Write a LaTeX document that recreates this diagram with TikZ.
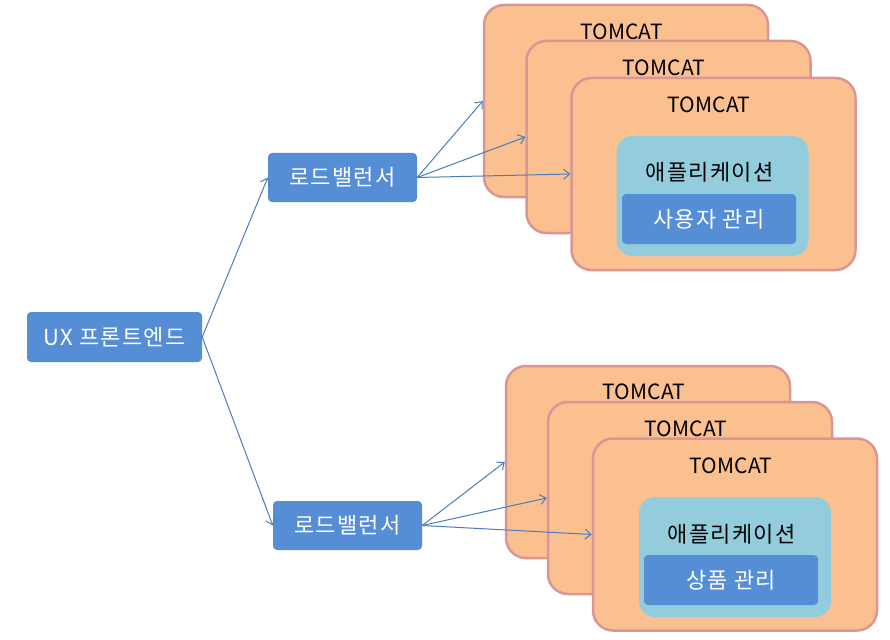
\documentclass[tikz,border=0pt]{standalone}
\usepackage{fontspec}
\setmainfont{Noto Sans CJK KR}
\newfontfamily\krfont[LetterSpace=6]{Noto Sans CJK KR}
\usetikzlibrary{arrows.meta}
\definecolor{tcfill}{HTML}{FAC090}
\definecolor{tcline}{HTML}{D99694}
\definecolor{appfill}{HTML}{93CDDD}
\definecolor{bluebox}{HTML}{558ED5}
\definecolor{arrowc}{HTML}{4A7EBB}
\tikzset{
  tomcat/.style={draw=tcline, line width=2.5pt, fill=tcfill, rounded corners=20pt, minimum width=284pt, minimum height=192pt, inner sep=0pt},
  appbox/.style={fill=appfill, rounded corners=16pt, minimum width=192pt, minimum height=120pt, inner sep=0pt},
  bluenode/.style={fill=bluebox, rounded corners=4pt, text=white, inner sep=0pt, font=\krfont\fontsize{22}{26}\selectfont},
  tclabel/.style={text=black, inner sep=0pt, font=\fontsize{21}{24}\selectfont},
  applabel/.style={text=black, inner sep=0pt, font=\krfont\fontsize{22}{26}\selectfont},
  conn/.style={draw=arrowc, line width=1pt, -{Straight Barb[length=6pt,width=10pt,line width=1pt]}}
}
\begin{document}
\begin{tikzpicture}[x=1pt,y=-1pt]
\useasboundingbox (0,0) rectangle (890,639);
\fill[white] (0,0) rectangle (890,639);
% top group
\node[tomcat] (ta) at (626,101) {};
\node[tclabel] (tal) at (622,32) {TOMCAT};
\node[tomcat] (tb) at (668.5,137) {};
\node[tclabel] (tbl) at (664,68) {TOMCAT};
\node[tomcat] (tc) at (713.5,174) {};
\node[tclabel] (tcl) at (709,105) {TOMCAT};
\node[appbox] (app1) at (712.5,196) {};
\node[applabel] (app1l) at (709.5,172) {애플리케이션};
\node[bluenode, minimum width=174pt, minimum height=50pt] (user) at (709,219) {사용자 관리};
% bottom group
\node[tomcat] (tba) at (648,462) {};
\node[tclabel] (tbal) at (644,392) {TOMCAT};
\node[tomcat] (tbb) at (690,498) {};
\node[tclabel] (tbbl) at (686,429) {TOMCAT};
\node[tomcat] (tbc) at (735,534.5) {};
\node[tclabel] (tbcl) at (731,466) {TOMCAT};
\node[appbox] (app2) at (735,557) {};
\node[applabel] (app2l) at (731.5,534) {애플리케이션};
\node[bluenode, minimum width=174pt, minimum height=50pt] (prod) at (731,580) {상품 관리};
% left nodes
\node[bluenode, minimum width=175pt, minimum height=50pt] (ux) at (114.5,337) {UX 프론트엔드};
\node[bluenode, minimum width=149pt, minimum height=49pt] (lb1) at (342.5,177.5) {로드밸런서};
\node[bluenode, minimum width=149pt, minimum height=49pt] (lb2) at (347.5,525.5) {로드밸런서};
% connectors
\draw[conn] (ux.east) -- (lb1.west);
\draw[conn] (ux.east) -- (lb2.west);
\draw[conn] (lb1.east) -- (ta.west);
\draw[conn] (lb1.east) -- (tb.west);
\draw[conn] (lb1.east) -- (tc.west);
\draw[conn] (lb2.east) -- (tba.west);
\draw[conn] (lb2.east) -- (tbb.west);
\draw[conn] (lb2.east) -- (tbc.west);
\end{tikzpicture}
\end{document}
